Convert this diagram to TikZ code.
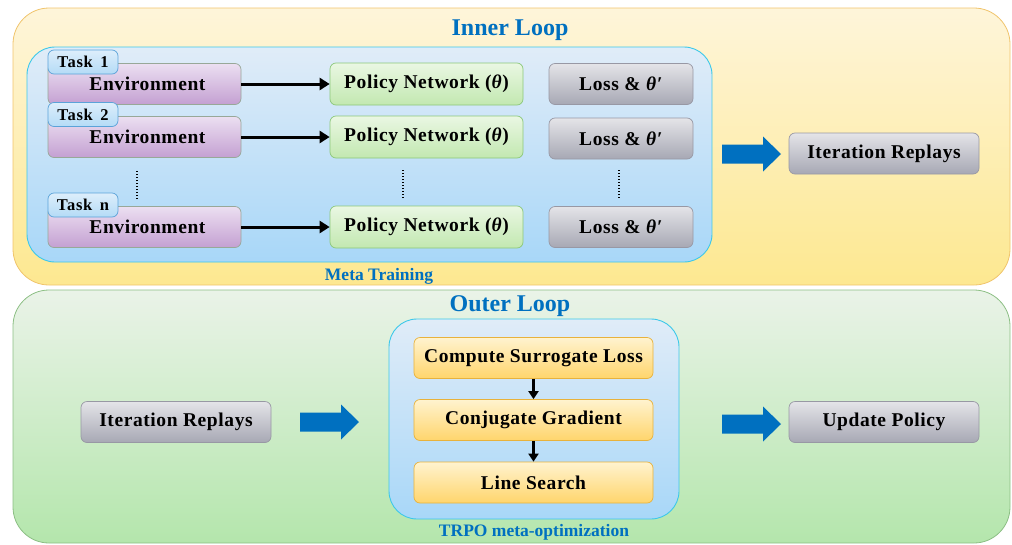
\documentclass[tikz,border=0pt]{standalone}
\usepackage{fontspec}
\setmainfont{Liberation Serif}
\usetikzlibrary{arrows.meta}
\definecolor{titleblue}{HTML}{0070C0}
\definecolor{arrowblue}{HTML}{0070C0}
\definecolor{ylwtop}{HTML}{FEF5DA}
\definecolor{ylwbot}{HTML}{FDE890}
\definecolor{ylwline}{HTML}{F0C46C}
\definecolor{grntop}{HTML}{EAF3E8}
\definecolor{grnbot}{HTML}{B4E6AC}
\definecolor{grnline}{HTML}{8CBF84}
\definecolor{bluetop}{HTML}{E0ECF8}
\definecolor{bluebot}{HTML}{A8D7F8}
\definecolor{blueline}{HTML}{3CC8EA}
\definecolor{envtop}{HTML}{ECDFF1}
\definecolor{envbot}{HTML}{C3A0D2}
\definecolor{envline}{HTML}{98A898}
\definecolor{tasktop}{HTML}{DDEEFB}
\definecolor{taskbot}{HTML}{B4DBF6}
\definecolor{taskline}{HTML}{5BA3D9}
\definecolor{poltop}{HTML}{EAF7E3}
\definecolor{polbot}{HTML}{C2E8B0}
\definecolor{polline}{HTML}{8CC87A}
\definecolor{losstop}{HTML}{E4E4E8}
\definecolor{lossbot}{HTML}{A7A8B4}
\definecolor{lossline}{HTML}{9898A4}
\definecolor{ortop}{HTML}{FFF3CF}
\definecolor{orbot}{HTML}{FFD56C}
\definecolor{orline}{HTML}{E8B23C}
\tikzset{
  panel/.style={rounded corners=36pt, line width=0.8pt},
  inloop/.style={panel, draw=ylwline, top color=ylwtop, bottom color=ylwbot},
  outloop/.style={panel, draw=grnline, top color=grntop, bottom color=grnbot},
  inner/.style={rounded corners=28pt, line width=0.9pt, draw=blueline, top color=bluetop, bottom color=bluebot},
  box/.style={rounded corners=6pt, line width=0.7pt, inner sep=0pt,
    font=\fontsize{19.5}{22}\selectfont\bfseries\addfontfeatures{LetterSpace=3}},
  envbox/.style={box, minimum width=193pt, minimum height=41pt, draw=envline, top color=envtop, bottom color=envbot},
  taskbox/.style={box, minimum width=70pt, minimum height=24pt,
    font=\fontsize{16.5}{18}\selectfont\bfseries\addfontfeatures{LetterSpace=4}, draw=taskline, top color=tasktop, bottom color=taskbot},
  polbox/.style={box, minimum width=193pt, minimum height=42pt, draw=polline, top color=poltop, bottom color=polbot},
  lossbox/.style={box, minimum width=144pt, minimum height=41pt, draw=lossline, top color=losstop, bottom color=lossbot},
  grybox/.style={box, minimum width=190pt, minimum height=41pt, draw=lossline, top color=losstop, bottom color=lossbot},
  orbox/.style={box, minimum width=239pt, minimum height=41pt, draw=orline, top color=ortop, bottom color=orbot},
  title/.style={font=\fontsize{24}{26}\selectfont\bfseries, text=titleblue},
  caption/.style={font=\fontsize{17.5}{19}\selectfont\bfseries, text=titleblue},
  flow/.style={line width=3pt, -{Triangle[length=10pt,width=12pt]}},
  sflow/.style={line width=2.6pt, -{Triangle[length=8pt,width=10pt]}},
  vdots/.style={line width=2.6pt, dash pattern=on 1.4pt off 1.6pt},
}
\newcommand\fatarrow[2]{%
  \fill[arrowblue] (#1) ++(0,-9.5) -- ++(41,0) -- ++(0,-8) -- ++(18,17.5)
    -- ++(-18,17.5) -- ++(0,-8) -- ++(-41,0) -- cycle;
  \coordinate (#2) at (#1);}
\begin{document}
\begin{tikzpicture}[x=1pt,y=-1pt]
\useasboundingbox (0,0) rectangle (1012,544);

% inner loop panel
\draw[inloop] (13,8) rectangle (1010,285);
\node[title] (tin) at (510,30) {Inner Loop};
\draw[inner] (27,47) rectangle (712,262);
\node[caption] (cmeta) at (379,276) {Meta Training};

% tasks
\node[envbox] (e1) at (144.5,84) {\hspace*{6pt}Environment};
\node[envbox] (e2) at (144.5,137) {\hspace*{6pt}Environment};
\node[envbox] (e3) at (144.5,227) {\hspace*{6pt}Environment};
\node[taskbox] (t1) at (83,62) {Task\, 1};
\node[taskbox] (t2) at (83,114.5) {Task\, 2};
\node[taskbox] (t3) at (83,205) {Task\, n};

\node[polbox] (p1) at (426.5,84) {Policy Network (\textit{θ})};
\node[polbox] (p2) at (426.5,137) {Policy Network (\textit{θ})};
\node[polbox] (p3) at (426.5,227) {Policy Network (\textit{θ})};

\node[lossbox] (l1) at (621,84) {Loss \& \textit{θ′}};
\node[lossbox] (l2) at (621,138.5) {Loss \& \textit{θ′}};
\node[lossbox] (l3) at (621,227) {Loss \& \textit{θ′}};

\draw[flow] (e1) -- (p1);
\draw[flow] (e2) -- (p2);
\draw[flow] (e3) -- (p3);

\draw[vdots] (137,171) -- (137,199);
\draw[vdots] (403,170) -- (403,198);
\draw[vdots] (619,170) -- (619,198);

\fatarrow{722,154}{a1}
\node[grybox] (ir1) at (884,153.5) {Iteration Replays};

% outer loop panel
\draw[outloop] (13,290) rectangle (1010,543);
\node[title] (tout) at (510,306) {Outer Loop};
\draw[inner] (389,319) rectangle (679,519);
\node[caption] (ctrpo) at (534,532) {TRPO meta-optimization};

\node[orbox] (o1) at (533.5,358) {Compute Surrogate Loss};
\node[orbox] (o2) at (533.5,420) {Conjugate Gradient};
\node[orbox] (o3) at (533.5,482.5) {Line Search};
\draw[sflow] (o1) -- (o2);
\draw[sflow] (o2) -- (o3);

\node[grybox] (ir2) at (176,422) {Iteration Replays};
\fatarrow{300,422}{a2}
\fatarrow{722,424}{a3}
\node[grybox] (up) at (884,422) {Update Policy};
\end{tikzpicture}
\end{document}
